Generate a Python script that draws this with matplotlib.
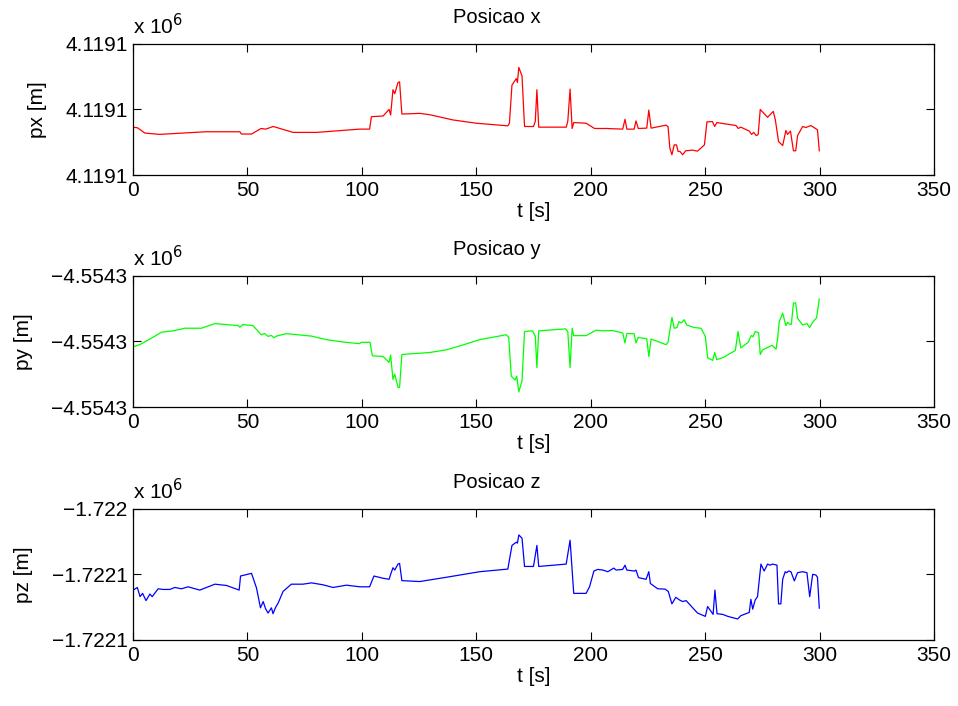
import matplotlib
matplotlib.use('Agg')
import matplotlib.pyplot as plt
from matplotlib.ticker import FuncFormatter

plt.rcParams['font.family'] = ['Liberation Sans', 'DejaVu Sans']

# offsets in units of one tick step, relative to the middle tick
px_t = [0, 2, 5.2, 11.6, 32, 46.7, 47.4, 51.8, 56, 58,
        61.3, 64.2, 70, 80.2, 99, 103.4, 104.2, 109.3, 111.9, 112.6,
        113.6, 114.4, 115.8, 116.5, 117.5, 125.3, 129.6, 139.8, 150, 163.8,
        164.5, 165.6, 167.5, 168, 168.6, 170, 171.1, 175, 175.8, 176.5,
        177.3, 189.3, 190, 191, 191.9, 192.6, 198, 201.7, 206.7, 214,
        215, 215.8, 219, 219.8, 220.8, 224.5, 225.4, 226.4, 232.9, 233.8,
        234.6, 235.5, 236.5, 237.5, 238.2, 239, 240.2, 241.5, 244.5, 246.7,
        249.7, 250.8, 253.2, 254.2, 255.1, 263.5, 264.5, 265.6, 269.3, 270.3,
        271.2, 272.4, 273.2, 274.1, 277.3, 279.8, 280.7, 282.1, 283.9, 285.3,
        286, 287.3, 288.6, 289.6, 290.4, 292.6, 294, 296.2, 299.1, 299.9]
px_v = [-0.27, -0.28, -0.36, -0.38, -0.34, -0.34, -0.375, -0.375, -0.29, -0.30,
        -0.26, -0.29, -0.35, -0.35, -0.30, -0.30, -0.11, -0.10, 0.0, -0.085,
        0.30, 0.24, 0.41, 0.42, -0.07, -0.06, -0.08, -0.16, -0.21, -0.25,
        -0.21, 0.37, 0.47, 0.41, 0.64, 0.51, -0.26, -0.26, -0.18, 0.30,
        -0.27, -0.27, -0.18, 0.31, -0.29, -0.20, -0.21, -0.29, -0.29, -0.30,
        -0.15, -0.30, -0.30, -0.175, -0.29, -0.285, -0.01, -0.285, -0.24, -0.26,
        -0.59, -0.69, -0.54, -0.54, -0.64, -0.64, -0.69, -0.63, -0.62, -0.635,
        -0.54, -0.19, -0.185, -0.26, -0.20, -0.245, -0.29, -0.27, -0.33, -0.38,
        -0.35, -0.40, -0.38, 0.0, -0.12, -0.03, -0.16, -0.49, -0.55, -0.32,
        -0.38, -0.33, -0.63, -0.63, -0.40, -0.26, -0.275, -0.245, -0.31, -0.63]

py_t = [0, 3, 7.4, 12.5, 17.6, 22.7, 29.9, 35.8, 46, 46.7,
        48, 52.4, 56.1, 57.5, 59, 60.5, 61.5, 62.7, 67, 78,
        84.5, 91.8, 99, 99.7, 103.6, 104.6, 109.3, 111.9, 112.6, 113.6,
        114.4, 115.8, 116.5, 117.5, 129.6, 136.8, 144.2, 151.5, 163.1, 164.2,
        165.3, 167, 167.7, 168.6, 170, 171.1, 174.6, 175.8, 176.5, 177.3,
        189, 190, 191, 191.9, 192.6, 198, 202.4, 205.3, 209.6, 214,
        215, 215.8, 219, 219.8, 220.8, 224.5, 225.4, 226.4, 232.9, 233.8,
        235.5, 236.5, 237.7, 238.6, 239.6, 240.9, 241.9, 245.2, 248.2, 250.1,
        251.1, 253.3, 254.2, 255.1, 258.3, 260.6, 263.2, 264.4, 265.6, 268.8,
        270.2, 270.9, 271.9, 273.4, 274.1, 275.1, 279.3, 281, 281.7, 282.4,
        283.9, 285.3, 286, 287, 287.7, 288.6, 289.6, 290.4, 292.6, 294.5,
        295.7, 296.8, 298.7, 299.9]
py_v = [-0.085, -0.05, 0.035, 0.14, 0.16, 0.20, 0.20, 0.27, 0.24, 0.215,
        0.255, 0.24, 0.10, 0.12, 0.076, 0.09, 0.056, 0.08, 0.117, 0.08,
        0.026, -0.01, -0.035, -0.015, -0.015, -0.22, -0.23, -0.32, -0.21, -0.58,
        -0.50, -0.70, -0.70, -0.20, -0.17, -0.13, -0.055, 0.026, 0.10, 0.06,
        -0.53, -0.59, -0.53, -0.77, -0.60, 0.15, 0.16, 0.08, -0.40, 0.16,
        0.19, 0.15, -0.40, 0.20, 0.087, 0.087, 0.17, 0.16, 0.165, 0.127,
        -0.025, 0.12, 0.115, -0.025, 0.06, 0.04, -0.23, 0.035, -0.05, -0.015,
        0.365, 0.20, 0.21, 0.30, 0.28, 0.33, 0.25, 0.21, 0.20, 0.076,
        -0.25, -0.29, -0.17, -0.28, -0.24, -0.19, -0.14, 0.15, -0.10, -0.015,
        0.09, 0.07, 0.15, 0.13, -0.20, -0.13, -0.06, -0.12, 0.05, 0.30,
        0.43, 0.24, 0.29, 0.26, 0.26, 0.585, 0.585, 0.35, 0.25, 0.27,
        0.21, 0.28, 0.36, 0.645]

pz_t = [0.1, 1.9, 3.1, 4.2, 5.7, 7.4, 8.4, 11, 13.1, 16.1,
        18.3, 21.2, 24.1, 29.2, 35.8, 40.9, 46.4, 47, 51.8, 54,
        55.7, 56.9, 57.9, 59, 60.5, 61.2, 62.3, 63.4, 65.6, 69.2,
        74.3, 78, 83.1, 87.4, 93.3, 99.1, 103.4, 105.3, 109.3, 111.9,
        112.6, 113.6, 114.4, 115.8, 116.5, 117.5, 125.3, 136.9, 151.5, 163.8,
        165.6, 167.5, 168, 168.6, 170, 171.1, 175, 176.5, 177.3, 189.3,
        191, 192.6, 198, 199.5, 201.4, 203.1, 205.3, 207.5, 210.1, 211.1,
        214, 215, 215.8, 219.1, 219.8, 220.9, 224.2, 225.4, 226.1, 229.3,
        232.5, 233.9, 235.5, 237.2, 238.8, 240.2, 241.7, 243.8, 246.7, 250.1,
        251.1, 253.5, 254.3, 255.2, 257.7, 259.9, 264.2, 265.6, 269.3, 270,
        270.8, 271.9, 272.9, 274.4, 275.8, 277.3, 278.3, 279.5, 281.4, 282.1,
        283.1, 283.9, 285, 285.6, 286.5, 287.5, 289, 290.4, 292.6, 294.5,
        295.7, 297, 298.4, 299.1, 299.9]
pz_v = [-0.24, -0.20, -0.34, -0.29, -0.40, -0.30, -0.34, -0.22, -0.23, -0.23,
        -0.20, -0.22, -0.19, -0.24, -0.15, -0.17, -0.24, -0.026, 0.015, -0.21,
        -0.51, -0.415, -0.52, -0.59, -0.51, -0.60, -0.505, -0.44, -0.26, -0.15,
        -0.15, -0.13, -0.16, -0.20, -0.165, -0.19, -0.19, -0.026, -0.06, -0.075,
        0.0, 0.10, 0.065, 0.156, 0.166, -0.096, -0.11, -0.045, 0.04, 0.08,
        0.44, 0.49, 0.475, 0.60, 0.55, 0.12, 0.12, 0.44, 0.12, 0.156,
        0.52, -0.29, -0.29, -0.19, 0.05, 0.075, 0.065, 0.04, 0.095, 0.065,
        0.075, 0.14, 0.065, 0.05, 0.065, -0.05, -0.076, 0.04, -0.14, -0.22,
        -0.225, -0.26, -0.45, -0.35, -0.39, -0.415, -0.40, -0.48, -0.59, -0.64,
        -0.49, -0.61, -0.24, -0.60, -0.61, -0.64, -0.68, -0.63, -0.58, -0.38,
        -0.53, -0.39, -0.34, 0.156, 0.05, 0.156, 0.14, 0.156, 0.14, -0.45,
        -0.45, -0.076, 0.04, 0.025, 0.05, 0.04, -0.10, 0.025, 0.04, 0.025,
        -0.34, 0.0, -0.01, -0.045, -0.515]

# middle tick value and tick step (m) of each axis
bases = [4119100.0, -4554300.0, -1722060.0]
steps = [20.0, 20.0, 60.0]

series = [(px_t, px_v, 'r', 'Posicao x', 'px [m]'),
          (py_t, py_v, '#00ff00', 'Posicao y', 'py [m]'),
          (pz_t, pz_v, 'b', 'Posicao z', 'pz [m]')]

fig = plt.figure(figsize=(9.58, 7.06), dpi=100)
bottoms = [0.752, 0.4235, 0.0935]

for i, (t, v, c, title, ylab) in enumerate(series):
    ax = fig.add_axes([0.1388, bottoms[i], 0.8361, 0.186])
    base, step = bases[i], steps[i]
    y = [base + val * step for val in v]
    ax.plot(t, y, color=c, lw=0.9)
    ax.set_xlim(0, 350)
    ax.set_ylim(base - step, base + step)
    ax.set_xticks(range(0, 351, 50))
    ax.set_yticks([base - step, base, base + step])
    ax.yaxis.set_major_formatter(FuncFormatter(
        lambda val, pos: ('%.5g' % (val / 1e6)).replace('-', '\u2212')))
    ax.tick_params(direction='in', top=True, right=True, length=6,
                   width=0.8, labelsize=15, pad=4)
    for s in ax.spines.values():
        s.set_linewidth(0.9)
    ax.set_title(title, fontsize=14.5, pad=15, x=0.454)
    ax.set_xlabel('t [s]', fontsize=15, labelpad=2)
    ax.set_ylabel(ylab, fontsize=15, labelpad=13)
    ax.text(0.0, 1.04, r'x 10$^{6}$', transform=ax.transAxes, fontsize=15,
            ha='left', va='bottom')

fig.savefig('out.png', dpi=100)
